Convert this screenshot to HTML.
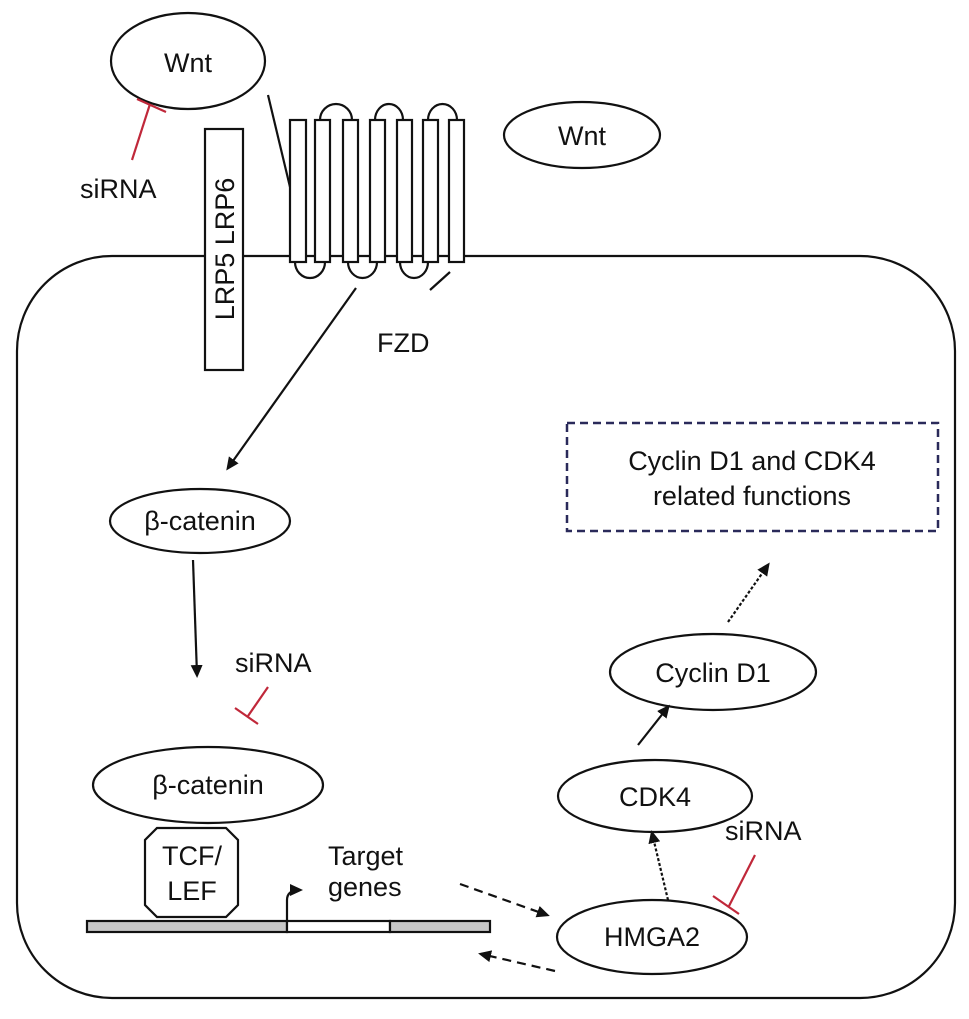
<!DOCTYPE html>
<html><head><meta charset="utf-8"><style>html,body{margin:0;padding:0;background:#fff}svg{display:block}</style></head>
<body>
<svg width="969" height="1019" viewBox="0 0 969 1019" xmlns="http://www.w3.org/2000/svg" font-family="Liberation Sans, sans-serif" fill="none" stroke="#111" stroke-width="2.2">
<defs>
<marker id="ah" markerWidth="13" markerHeight="12" refX="10" refY="6" orient="auto" markerUnits="userSpaceOnUse"><path d="M0,0 L13,6 L0,12 Z" fill="#111" stroke="none"/></marker>
</defs>
<rect x="17" y="256" width="938" height="742" rx="95" ry="95"/>
<ellipse cx="188" cy="61" rx="77" ry="48" fill="#fff"/>
<text x="188" y="72" font-size="27" text-anchor="middle" fill="#111" stroke="none">Wnt</text>
<ellipse cx="582" cy="135" rx="78" ry="33" fill="#fff"/>
<text x="582" y="145" font-size="27" text-anchor="middle" fill="#111" stroke="none">Wnt</text>
<line x1="268" y1="95" x2="290" y2="187"/>
<rect x="205" y="129" width="38" height="241" fill="#fff"/>
<text transform="translate(234,249) rotate(-90)" font-size="27" text-anchor="middle" fill="#111" stroke="none">LRP5 LRP6</text>
<path d="M320,120 A16,16 0 0 1 352,120 M375,120 A14,16 0 0 1 403,120 M428,120 A14.5,16 0 0 1 457,120"/>
<path d="M295,262 A15,16 0 0 0 325,262 M348,262 A14.5,16 0 0 0 377,262 M400,262 A14,16 0 0 0 428,262"/>
<g fill="#fff">
<rect x="290" y="120" width="16" height="142"/>
<rect x="315" y="120" width="15" height="142"/>
<rect x="343" y="120" width="15" height="142"/>
<rect x="370" y="120" width="15" height="142"/>
<rect x="397" y="120" width="15" height="142"/>
<rect x="423" y="120" width="15" height="142"/>
<rect x="449" y="120" width="15" height="142"/>
</g>
<line x1="430" y1="290" x2="450" y2="272"/>
<text x="377" y="352" font-size="27" fill="#111" stroke="none">FZD</text>
<line x1="356" y1="288" x2="228" y2="468" marker-end="url(#ah)"/>
<text x="80" y="198" font-size="27" fill="#111" stroke="none">siRNA</text>
<g stroke="#c0283a"><line x1="132" y1="160" x2="150" y2="104"/><line x1="137" y1="99" x2="166" y2="112"/></g>
<ellipse cx="200" cy="521" rx="90" ry="32"/>
<text x="200" y="530" font-size="27" text-anchor="middle" fill="#111" stroke="none">β-catenin</text>
<line x1="193" y1="560" x2="197" y2="675" marker-end="url(#ah)"/>
<text x="235" y="672" font-size="27" fill="#111" stroke="none">siRNA</text>
<g stroke="#c0283a"><line x1="268" y1="687" x2="248" y2="716"/><line x1="235" y1="708" x2="258" y2="724"/></g>
<ellipse cx="208" cy="785" rx="115" ry="38"/>
<text x="208" y="794" font-size="27" text-anchor="middle" fill="#111" stroke="none">β-catenin</text>
<polygon points="157,828 226,828 238,840 238,905 226,917 157,917 145,905 145,840" fill="#fff"/>
<text x="192" y="865" font-size="27" text-anchor="middle" fill="#111" stroke="none">TCF/</text>
<text x="192" y="900" font-size="27" text-anchor="middle" fill="#111" stroke="none">LEF</text>
<rect x="87" y="921" width="200" height="11" fill="#c8c8c8"/>
<rect x="287" y="921" width="103" height="11" fill="#fff"/>
<rect x="390" y="921" width="100" height="11" fill="#c8c8c8"/>
<path d="M287,921 L287,900 Q287,890 300,890" marker-end="url(#ah)"/>
<text x="328" y="865" font-size="27" fill="#111" stroke="none">Target</text>
<text x="328" y="896" font-size="27" fill="#111" stroke="none">genes</text>
<line x1="460" y1="884" x2="547" y2="915" stroke-dasharray="9,6" marker-end="url(#ah)"/>
<line x1="555" y1="971" x2="481" y2="954" stroke-dasharray="9,6" marker-end="url(#ah)"/>
<ellipse cx="652" cy="937" rx="95" ry="37"/>
<text x="652" y="946" font-size="27" text-anchor="middle" fill="#111" stroke="none">HMGA2</text>
<line x1="668" y1="900" x2="652" y2="833" stroke-dasharray="3,2" marker-end="url(#ah)"/>
<text x="725" y="840" font-size="27" fill="#111" stroke="none">siRNA</text>
<g stroke="#c0283a"><line x1="755" y1="855" x2="729" y2="906"/><line x1="713" y1="896" x2="739" y2="914"/></g>
<ellipse cx="655" cy="796" rx="97" ry="36"/>
<text x="655" y="806" font-size="27" text-anchor="middle" fill="#111" stroke="none">CDK4</text>
<line x1="638" y1="745" x2="668" y2="707" marker-end="url(#ah)"/>
<ellipse cx="713" cy="672" rx="103" ry="38"/>
<text x="713" y="682" font-size="27" text-anchor="middle" fill="#111" stroke="none">Cyclin D1</text>
<line x1="728" y1="622" x2="768" y2="565" stroke-dasharray="3,2" marker-end="url(#ah)"/>
<rect x="567" y="423" width="371" height="108" stroke="#2a2a5a" stroke-width="2.5" stroke-dasharray="8,5"/>
<text x="752" y="470" font-size="27" text-anchor="middle" fill="#111" stroke="none">Cyclin D1 and CDK4</text>
<text x="752" y="505" font-size="27" text-anchor="middle" fill="#111" stroke="none">related functions</text>
</svg>
</body></html>
